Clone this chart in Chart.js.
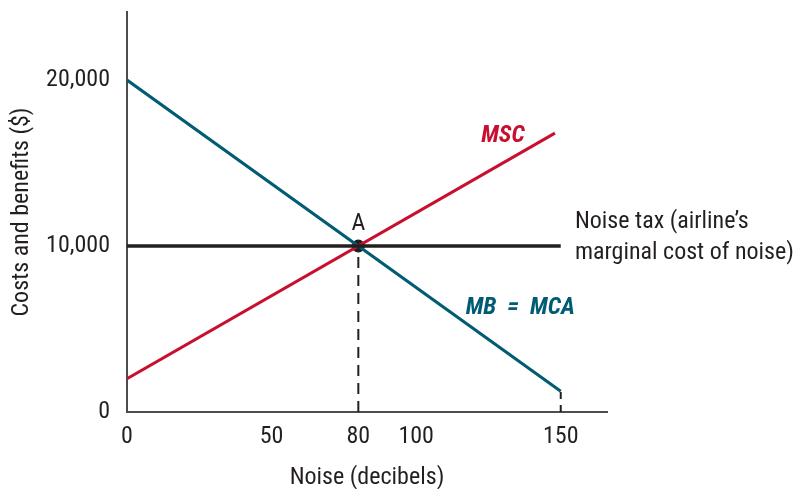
<!DOCTYPE html>
<html>
<head>
<meta charset="utf-8">
<script src="https://cdn.jsdelivr.net/npm/chart.js@4/dist/chart.umd.min.js"></script>
<style>
  html, body { margin: 0; padding: 0; background: #fff; }
  #wrap { width: 795px; height: 489px; }
</style>
</head>
<body>
<div id="wrap"><canvas id="c" width="795" height="489"></canvas></div>
<script>
// Noise (decibels) on x, costs and benefits ($) on y
const xTicks = [0, 50, 80, 100, 150];
const yTicks = [0, 10000, 20000];

// Marginal benefit of noise = marginal cost of abatement (falls with noise)
const mbNoise = [0, 150];
const mbValue = [20000, 1250];

// Marginal social cost (rises with noise)
const mscNoise = [0, 148];
const mscValue = [2000, 16800];

// Noise tax: the airline's marginal cost of noise
const taxNoise = [0, 150];
const taxValue = [10000, 10000];

// Equilibrium point A
const eqNoise = 80;
const eqValue = 10000;

const FONT = "'Liberation Sans Narrow', 'Roboto Condensed', 'Liberation Sans', sans-serif";
const SIZE = 24;
const TEAL = '#005c72';
const RED = '#c8102e';
const INK = '#231f20';

const pts = (xs, ys) => xs.map((x, i) => ({ x, y: ys[i] }));

// Text labels placed in data coordinates
const textLabels = [
  { x: 130, y: 16650, text: 'MSC', color: RED, style: 'italic bold', align: 'center' },
  { x: 136, y: 6250, text: 'MB  =  MCA', color: TEAL, style: 'italic bold', align: 'center' },
  { x: 80, y: 11330, text: 'A', color: INK, style: '', align: 'center' },
  { x: 154.9, y: 11420, text: 'Noise tax (airline\u2019s', color: INK, style: '', align: 'left' },
  { x: 154.9, y: 9580, text: 'marginal cost of noise)', color: INK, style: '', align: 'left' }
];

const labelPlugin = {
  id: 'textLabels',
  afterDatasetsDraw(chart) {
    const { ctx, scales: { x, y } } = chart;
    ctx.save();
    ctx.textBaseline = 'middle';
    textLabels.forEach(l => {
      ctx.font = (l.style ? l.style + ' ' : '') + SIZE + 'px ' + FONT;
      ctx.fillStyle = l.color;
      ctx.textAlign = l.align;
      ctx.fillText(l.text, x.getPixelForValue(l.x), y.getPixelForValue(l.y));
    });
    ctx.restore();
  }
};

new Chart(document.getElementById('c'), {
  type: 'scatter',
  data: {
    datasets: [
      { data: pts([eqNoise, eqNoise], [0, eqValue]), showLine: true, borderColor: INK, borderWidth: 2, borderDash: [11, 7], pointRadius: 0 },
      { data: pts([150, 150], [0, mbValue[1]]), showLine: true, borderColor: INK, borderWidth: 2, borderDash: [7, 6], pointRadius: 0 },
      { data: pts(taxNoise, taxValue), showLine: true, borderColor: INK, borderWidth: 3.5, pointRadius: 0 },
      { data: pts(mbNoise, mbValue), showLine: true, borderColor: TEAL, borderWidth: 3, pointRadius: 0 },
      { data: pts(mscNoise, mscValue), showLine: true, borderColor: RED, borderWidth: 3, pointRadius: 0 },
      { data: [{ x: eqNoise, y: eqValue }], pointRadius: 6.5, pointBackgroundColor: INK, pointBorderWidth: 0 }
    ]
  },
  options: {
    responsive: false,
    animation: false,
    layout: { padding: { top: 12, right: 188, left: 0, bottom: 0 } },
    plugins: { legend: { display: false }, tooltip: { enabled: false } },
    scales: {
      x: {
        type: 'linear', min: 0, max: 166,
        grid: { display: false, drawTicks: false },
        border: { color: '#4d4d4f', width: 2 },
        afterBuildTicks: s => { s.ticks = xTicks.map(v => ({ value: v })); },
        afterFit: s => { s.height = 77; s.paddingLeft = 0; s.paddingRight = 0; },
        ticks: { color: INK, padding: 11, font: { family: FONT, size: SIZE } },
        title: { display: true, text: 'Noise (decibels)', color: INK, padding: { top: 4, bottom: -3 }, font: { family: FONT, size: SIZE } }
      },
      y: {
        type: 'linear', min: 0, max: 24100,
        grid: { display: false, drawTicks: false },
        border: { color: '#4d4d4f', width: 2 },
        afterBuildTicks: s => { s.ticks = yTicks.map(v => ({ value: v })); },
        afterFit: s => { s.width = 127; s.paddingTop = 0; s.paddingBottom = 0; },
        ticks: { color: INK, padding: 17, font: { family: FONT, size: SIZE }, callback: v => v.toLocaleString('en-US') },
        title: { display: true, text: 'Costs and benefits ($)', color: INK, padding: { top: 8, bottom: 0 }, font: { family: FONT, size: SIZE } }
      }
    }
  },
  plugins: [labelPlugin]
});
</script>
</body>
</html>
